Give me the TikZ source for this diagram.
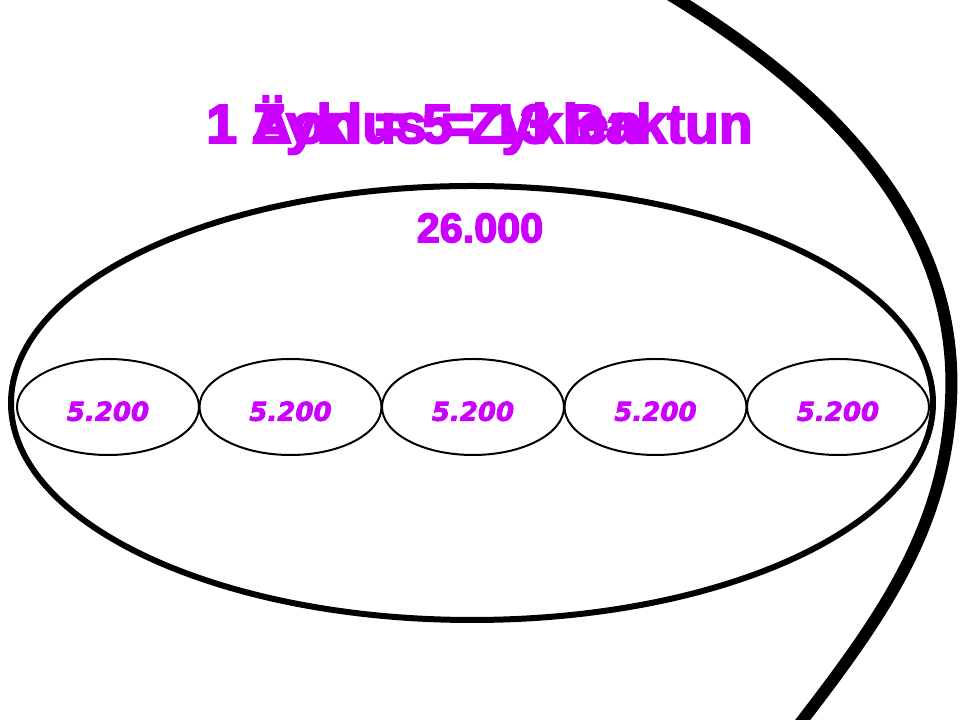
\documentclass[tikz,border=0pt]{standalone}
\usepackage{fontspec}
\setmainfont{Liberation Sans}
\newfontfamily\heavy[FakeBold=3.5]{Liberation Sans Bold}
\newfontfamily\dejavu[FakeBold=3]{DejaVu Sans Bold Oblique}
\usepackage{tikz}
\usetikzlibrary{shapes.geometric, positioning}
\definecolor{mayaviolet}{HTML}{CC00FF}
\tikzstyle{title} = [anchor=base west, inner sep=0pt, text=mayaviolet, font=\heavy\fontsize{41.3}{44}\selectfont]
\tikzset{baktun/.style={
    ellipse, draw=black, line width=1.5pt,
    minimum width=136.5pt, minimum height=72pt, inner sep=0pt,
    text height=21pt, text=mayaviolet, font=\dejavu\fontsize{19.5}{22}\selectfont,
  },
}
\def\zyklusellipse{(472,317) ellipse (461 and 217)}
\def\aonarc{(662,730) .. controls (880,600) and (958,460) .. (951,320) .. controls (945,190) and (880,100) .. (795,-10)}

\begin{document}
\begin{tikzpicture}[x=0.75pt, y=0.75pt]
        \useasboundingbox (0,0) rectangle (960,720);
        \clip (0,0) rectangle (960,720);
        \fill[white] (0,0) rectangle (960,720);
        \draw[line width=9pt] \aonarc;
        \draw[line width=4.5pt] \zyklusellipse;

        % the two titles sit on top of each other
        \node[title] (zyklus) at (206,577) {1 Zyklus = 13 Baktun};
        \node[title] (aon) at (206,577) {1 Äon = 5 Zyklen};

        \node[text=mayaviolet, font=\heavy\fontsize{31}{34}\selectfont] (total) at (480,492) {26.000};

        \foreach \i in {1,...,5}
            \node[baktun] (b\i) at ({108+182.5*(\i-1)},313) {5.200};
\end{tikzpicture}
\end{document}
